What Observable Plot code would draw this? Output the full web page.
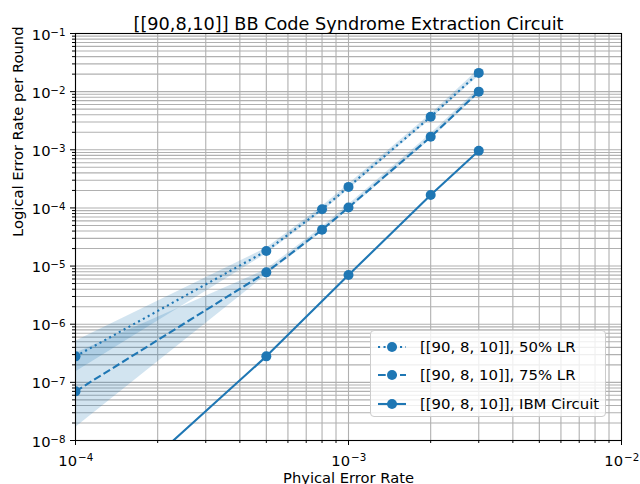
<!DOCTYPE html>
<html>
<head>
<meta charset="utf-8">
<script src="https://cdn.jsdelivr.net/npm/d3@7"></script>
<script src="https://cdn.jsdelivr.net/npm/@observablehq/plot@0.6"></script>
<style>
  html, body { margin: 0; padding: 0; background: #fff; }
  #wrap { position: relative; width: 640px; height: 484px; font-family: "DejaVu Sans", sans-serif; }
  #legend { position: absolute; left: 370px; top: 330px; width: 236px; height: 87px;
    background: rgba(255,255,255,0.8); border: 1px solid #cccccc; border-radius: 4px; box-sizing: border-box; }
  #legend .row { position: absolute; left: 0; height: 20px; display: flex; align-items: center; font-size: 14.9px; color: #000; white-space: nowrap; }
  #legend svg { margin-left: 7px; margin-right: 14px; }
</style>
</head>
<body>
<div id="wrap"></div>
<script>
// ---- data ----
const titleText = "[[90,8,10]] BB Code Syndrome Extraction Circuit";
const xLabel = "Phyical Error Rate";
const yLabel = "Logical Error Rate per Round";
const seriesNames = ["[[90, 8, 10]], 50% LR", "[[90, 8, 10]], 75% LR", "[[90, 8, 10]], IBM Circuit"];

const pLR = [1e-4, 5e-4, 8e-4, 1e-3, 2e-3, 3e-3];
const lr50 = [2.8e-7, 1.82e-5, 9.5e-5, 2.3e-4, 3.7e-3, 2.1e-2];
const lr50Lo = [1.5e-7, 1.62e-5, 8.5e-5, 2.05e-4, 3.35e-3, 1.85e-2];
const lr50Hi = [5.1e-7, 2.02e-5, 1.06e-4, 2.55e-4, 4.1e-3, 2.4e-2];
const lr75 = [7.0e-8, 7.8e-6, 4.2e-5, 1.02e-4, 1.67e-3, 1.0e-2];
const lr75Lo = [1.67e-8, 7.0e-6, 3.8e-5, 9.2e-5, 1.5e-3, 9.0e-3];
const lr75Hi = [3.16e-7, 8.7e-6, 4.65e-5, 1.13e-4, 1.86e-3, 1.12e-2];
const pIBM = [1e-4, 5e-4, 1e-3, 2e-3, 3e-3];
const ibm = [3.0e-10, 2.8e-7, 7.0e-6, 1.67e-4, 9.6e-4];

// tick labels: base "10" with exponent
const xMajor = [1e-4, 1e-3, 1e-2];
const xMajorExp = ["−4", "−3", "−2"];
const yMajor = [1e-8, 1e-7, 1e-6, 1e-5, 1e-4, 1e-3, 1e-2, 1e-1];
const yMajorExp = ["−8", "−7", "−6", "−5", "−4", "−3", "−2", "−1"];
const tickBase = "10";
const minorMult = [2, 3, 4, 5, 6, 7, 8, 9];

// ---- build tables ----
const xMinor = [1e-4, 1e-3].flatMap(d => minorMult.map(m => +(d * m).toPrecision(3)));
const yMinor = yMajor.slice(0, -1).flatMap(d => minorMult.map(m => +(d * m).toPrecision(3)));
const d50 = pLR.map((p, i) => ({p, y: lr50[i], lo: lr50Lo[i], hi: lr50Hi[i]}));
const d75 = pLR.map((p, i) => ({p, y: lr75[i], lo: lr75Lo[i], hi: lr75Hi[i]}));
const dIBM = pIBM.map((p, i) => ({p, y: ibm[i]}));
const xTicks = xMajor.map((v, i) => ({v, e: xMajorExp[i]}));
const yTicks = yMajor.map((v, i) => ({v, e: yMajorExp[i]}));

const C = "#1f77b4";
const gridC = "#b0b0b0";
const FS = 14.7;
const FE = 10.3;

const chart = Plot.plot({
  width: 640,
  height: 484,
  marginLeft: 75,
  marginRight: 19,
  marginTop: 33,
  marginBottom: 44,
  style: {fontFamily: "DejaVu Sans, sans-serif", fontSize: FS + "px", background: "#fff"},
  x: {type: "log", domain: [1e-4, 1e-2]},
  y: {type: "log", domain: [1e-8, 1e-1]},
  marks: [
    Plot.ruleX(xMajor.concat(xMinor), {stroke: gridC, strokeWidth: 1.1}),
    Plot.ruleY(yMajor.concat(yMinor), {stroke: gridC, strokeWidth: 1.1}),
    Plot.areaY(d50, {x: "p", y1: "lo", y2: "hi", fill: C, fillOpacity: 0.2, clip: true}),
    Plot.areaY(d75, {x: "p", y1: "lo", y2: "hi", fill: C, fillOpacity: 0.2, clip: true}),
    Plot.line(d50, {x: "p", y: "y", stroke: C, strokeWidth: 2.1, strokeDasharray: "2.1,3.4", strokeLinecap: "butt", clip: true}),
    Plot.line(d75, {x: "p", y: "y", stroke: C, strokeWidth: 2.1, strokeDasharray: "7.7,3.3", strokeLinecap: "butt", clip: true}),
    Plot.line(dIBM, {x: "p", y: "y", stroke: C, strokeWidth: 2.1, clip: true}),
    Plot.dot(d50, {x: "p", y: "y", r: 5, fill: C, stroke: null, clip: true}),
    Plot.dot(d75, {x: "p", y: "y", r: 5, fill: C, stroke: null, clip: true}),
    Plot.dot(dIBM, {x: "p", y: "y", r: 5, fill: C, stroke: null, clip: true}),
    Plot.frame({stroke: "#000", strokeWidth: 1.1}),
    Plot.axisX(xMajor, {anchor: "bottom", tickSize: 5, tickFormat: () => "", label: null, stroke: "#000"}),
    Plot.axisX(xMinor, {anchor: "bottom", tickSize: 3, tickFormat: () => "", label: null, stroke: "#000"}),
    Plot.axisY(yMajor, {anchor: "left", tickSize: 5, tickFormat: () => "", label: null, stroke: "#000"}),
    Plot.axisY(yMinor, {anchor: "left", tickSize: 3, tickFormat: () => "", label: null, stroke: "#000"}),
    // x tick labels
    Plot.text(xTicks, {x: "v", frameAnchor: "bottom", text: () => tickBase, textAnchor: "end", lineAnchor: "bottom", dx: 1.5, dy: 25.5, fontSize: FS, fill: "#000"}),
    Plot.text(xTicks, {x: "v", frameAnchor: "bottom", text: "e", textAnchor: "start", lineAnchor: "bottom", dx: 2.5, dy: 20.8, fontSize: FE, fill: "#000"}),
    // y tick labels
    Plot.text(yTicks, {y: "v", frameAnchor: "left", text: () => tickBase, textAnchor: "end", lineAnchor: "bottom", dx: -25, dy: 6, fontSize: FS, fill: "#000"}),
    Plot.text(yTicks, {y: "v", frameAnchor: "left", text: "e", textAnchor: "end", lineAnchor: "bottom", dx: -10, dy: 2.3, fontSize: FE, fill: "#000"}),
    Plot.text([titleText], {text: d => d, frameAnchor: "top", dy: -16, fontSize: 17.7, fill: "#000"}),
    Plot.text([xLabel], {text: d => d, frameAnchor: "bottom", dy: 42, fontSize: FS, fill: "#000"}),
    Plot.text([yLabel], {text: d => d, frameAnchor: "left", dx: -57, rotate: -90, fontSize: FS, fill: "#000"})
  ]
});

const wrap = document.getElementById("wrap");
wrap.appendChild(chart);

// ---- legend ----
const legend = document.createElement("div");
legend.id = "legend";
const dashes = ["2.1,3.4", "7.7,3.3", null];
const rowTops = [6, 34, 63];
seriesNames.forEach((name, i) => {
  const row = document.createElement("div");
  row.className = "row";
  row.style.top = rowTops[i] + "px";
  const s = d3.create("svg").attr("width", 28).attr("height", 12);
  s.append("line").attr("x1", 0).attr("x2", 28).attr("y1", 6).attr("y2", 6)
    .attr("stroke", C).attr("stroke-width", 2.1).attr("stroke-dasharray", dashes[i]);
  s.append("circle").attr("cx", 14).attr("cy", 6).attr("r", 5).attr("fill", C);
  row.appendChild(s.node());
  const t = document.createElement("span");
  t.textContent = name;
  row.appendChild(t);
  legend.appendChild(row);
});
wrap.appendChild(legend);
</script>
</body>
</html>
